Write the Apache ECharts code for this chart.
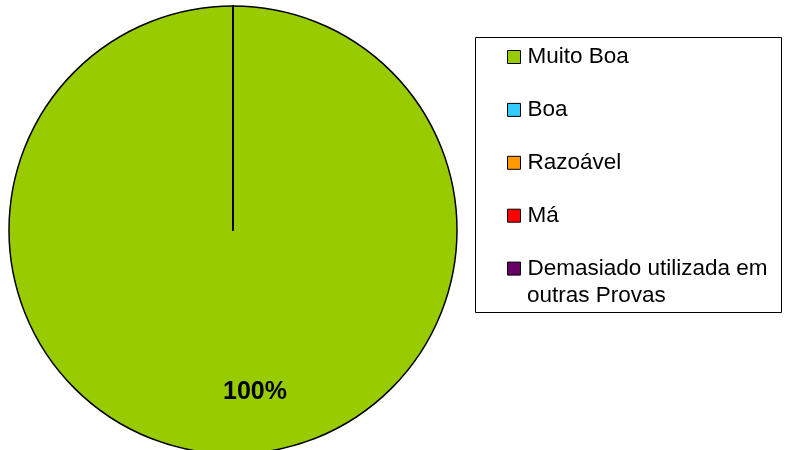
<!DOCTYPE html>
<html>
<head>
<meta charset="utf-8">
<script src="https://cdn.jsdelivr.net/npm/echarts@6/dist/echarts.min.js"></script>
<style>
    html, body {margin: 0; padding: 0; background: #fff;}
    #chart {width: 795px; height: 450px;}
</style>
</head>
<body>
<div id="chart"></div>
<script>
    // categorias e valores
    const categories = ['Muito Boa', 'Boa', 'Razoável', 'Má', 'Demasiado utilizada em outras Provas'];
    const values = [100, 0, 0, 0, 0];
    const colors = ['#99CC00', '#33CCFF', '#FF9900', '#FF0000', '#660066'];

    const chart = echarts.init(document.getElementById('chart'));
    const font = '"Liberation Sans", Arial, sans-serif';

    chart.setOption({
        animation: false,
        color: colors,
        legend: {
            orient: 'vertical',
            left: 507, top: 43, padding: 0,
            itemGap: 24.9, itemWidth: 13, itemHeight: 13,
            icon: 'rect',
            itemStyle: {borderColor: '#000', borderWidth: 1},
            selectedMode: false,
            textStyle: {fontFamily: font, fontSize: 22.5, color: '#000', lineHeight: 28, padding: [0, 0, 0, 2]},
            formatter: name => name === categories[4] ? 'Demasiado utilizada em' : name,
            data: categories
        },
        graphic: [
            {
                type: 'rect', z: -1,
                shape: {x: 475.5, y: 37.5, width: 306, height: 275},
                style: {fill: '#fff', stroke: '#000', lineWidth: 1}
            },
            {
                type: 'text',
                x: 527, y: 296,
                style: {text: 'outras Provas', font: '22.5px ' + font, fill: '#000', verticalAlign: 'middle'}
            }
        ],
        series: [{
            type: 'pie',
            center: [233, 230],
            radius: 224,
            startAngle: 90,
            clockwise: true,
            stillShowZeroSum: true,
            emphasis: {disabled: true},
            itemStyle: {borderColor: '#000', borderWidth: 1.5},
            label: {
                position: 'inside',
                fontFamily: font, fontSize: 25, fontWeight: 'bold', color: '#000',
                formatter: p => p.value ? Math.round(p.percent) + '%' : ''
            },
            labelLayout: {dx: 22, dy: 47},
            labelLine: {show: false},
            data: categories.map((c, i) => ({name: c, value: values[i]}))
        }]
    });
</script>
</body>
</html>
